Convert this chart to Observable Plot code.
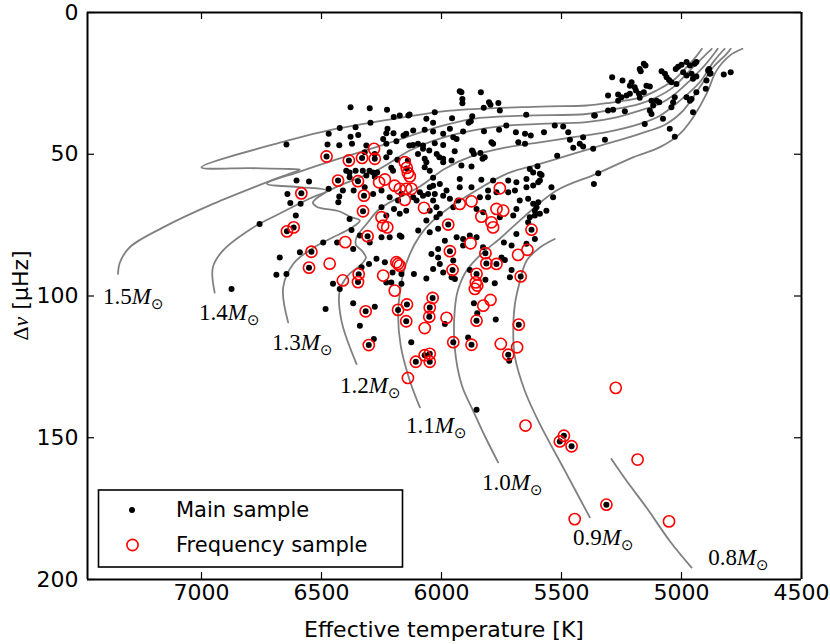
<!DOCTYPE html>
<html><head><meta charset="utf-8">
<script src="https://cdn.jsdelivr.net/npm/d3@7"></script>
<script src="https://cdn.jsdelivr.net/npm/@observablehq/plot@0.6"></script>
<style>body{margin:0;background:#fff}#chart{width:830px;height:644px}</style>
</head><body><div id="chart"></div>
<script>
// Main sample: [Teff (K), Δν (µHz)]
const mainSample = [
[5157,18.1],[5150,18.7],[5174,19.9],[5170,20.7],[5289,22.8],[5246,24.0],[5208,24.6],[5215,25.8],[5195,26.4],[5146,25.8],[5132,26.1],[5083,20.7],[5069,21.6],[5062,22.8],[5052,23.8],[5042,24.6],[5021,25.2],[5024,19.9],[5014,19.1],[5000,18.4],[4979,17.5],[4965,18.7],[4945,18.1],[4938,17.5],[4993,21.1],[4979,22.2],[4958,21.6],[4952,23.4],[4938,22.6],[4889,20.5],[4882,21.6],[4896,24.0],[4899,26.9],[4938,28.1],[4958,30.5],[4824,21.9],[4795,21.1],[4885,19.9],[4879,21.4],
[5264,28.9],[5250,29.9],[5229,29.3],[5215,28.7],[5190,27.5],[5177,28.7],[5157,28.1],[5174,30.1],[5306,29.3],[5264,31.1],[5125,31.1],[5104,31.1],[5093,31.7],[5118,32.8],[5028,29.9],[5035,31.7],[5042,33.4],[4979,29.9],[4965,31.1],[5132,34.6],[5125,35.8],[5077,37.5],[4952,35.2],[5306,34.6],[5285,34.3],[5361,36.3],[5236,34.8],[5153,39.3],[5049,41.0],[5028,43.8],
[5528,39.9],[5493,40.2],[5472,42.2],[5465,44.9],[5410,44.0],[5424,46.3],[5410,47.3],[5451,47.7],[5368,48.1],[5319,44.9],[5364,36.3],[5347,56.7],[5365,60.5],[5518,50.5],
[6379,33.4],[6299,33.8],[6227,34.3],[5924,27.8],[5917,28.1],[5836,28.1],[5913,30.5],[5913,32.0],[5802,31.7],[5796,32.5],[5763,31.9],[5824,33.6],[5757,34.6],
[6174,36.3],[6133,36.0],[6199,36.9],[6138,36.3],[6028,35.2],[5956,37.3],[5872,36.6],[5878,38.4],[6063,37.5],[6035,38.9],[5887,38.9],[5730,39.9],[5647,36.1],
[6296,38.9],[6424,40.7],[6358,40.5],[6347,43.2],[6470,42.8],[6379,43.8],[6225,41.0],[6230,42.6],[6200,42.6],[6147,42.8],[6158,43.4],[6243,44.6],[6118,41.6],[6070,41.4],[6035,42.0],[5993,42.8],[5965,41.0],[5951,44.0],[5910,42.0],[5823,41.9],[5760,41.4],[5690,42.2],[5652,42.8],[5628,43.4],[5573,42.2],
[6646,46.6],[6475,46.6],[6426,46.8],[6373,46.3],[6313,46.9],[6230,46.3],[6188,45.4],[6216,49.3],[6134,46.9],[6320,49.3],[6278,49.9],[6119,46.7],[6098,46.3],[6077,46.9],[6028,46.1],[5993,46.7],[5937,44.6],[5945,48.9],[5873,48.7],[5838,49.6],[5792,45.8],[5785,46.3],[5680,45.8],[5652,46.3],
[6051,48.7],[6020,49.9],[6009,51.1],[5993,51.6],[6077,48.1],[6098,49.9],[6070,51.6],[5870,48.9],[5865,49.9],[5829,51.6],
[6063,52.8],[6070,54.6],[6049,55.8],[5993,52.8],[5958,52.2],[5917,54.0],[5875,54.3],[5820,51.1],[6230,51.1],[6184,51.9],[6140,52.2],
[6397,55.8],[6383,56.4],[6358,55.8],[6328,55.8],[6300,55.8],[6286,56.4],[6268,56.4],[6383,58.1],[6313,57.5],[6278,57.9],[6209,54.8],[6202,55.8],
[6479,50.8],[6386,52.2],[6331,51.3],[6278,51.6],[6431,59.3],[6348,59.5],[6584,63.8],[6323,64.6],[6327,70.1],[6644,77.2],[6616,75.8],[6145,55.0],
[6035,58.3],[5924,58.7],[5834,59.0],[5785,59.3],[5722,59.3],[5688,59.9],[5646,58.7],[5590,59.3],[5542,61.6],
[6049,61.6],[6028,64.0],[6056,64.0],[5924,61.6],[5875,61.6],[5806,62.8],[5771,63.4],[5722,63.4],[5694,62.8],[5646,61.6],[5618,61.0],[5535,65.2],
[5965,65.7],[5951,68.7],[6035,66.3],[6021,68.7],[5840,65.2],[5806,65.2],[5674,66.3],[5639,65.7],[5688,69.3],[5604,68.7],[5590,71.0],[5563,69.9],
[5854,69.3],[5826,70.5],[5757,72.2],[5701,71.6],[5632,72.2],[5611,71.6],[6147,69.9],[6174,71.0],[6063,73.4],[6021,72.2],
[5600,54.2],[5590,56.9],[5632,55.2],[5618,56.4],[5583,57.3],[5597,59.9],[5597,66.9],[5618,67.5],[5611,69.9],[5639,74.0],[5611,79.9],
[6604,59.3],[6552,59.6],[6642,64.0],[6630,67.2],[6587,67.5],[6470,62.2],[6411,62.8],[6426,64.9],[6430,66.9],[6366,62.8],[6320,61.6],[6216,65.2],[6250,62.8],[6198,69.3],[6230,71.6],[6607,71.6],[6758,74.6],[6383,72.8],
[6674,86.4],[6688,92.5],[6646,92.2],[6590,84.6],[6493,81.1],[6435,81.1],[6542,84.4],[6552,90.0],[6308,78.9],
[6375,76.7],[6340,78.7],[6368,83.4],[6333,89.9],[6302,88.7],[6271,86.9],[6236,88.1],[6345,92.3],[6348,95.1],
[6452,95.7],[6424,97.5],[6368,102.6],[6340,110.5],[6483,104.6],[6278,103.8],[6282,115.2],[6316,105.4],[6303,117.3],
[6230,95.2],[6209,95.2],[6167,95.7],[6181,104.9],[6147,108.9],[6144,103.0],[6216,79.3],[6167,79.1],[6875,97.5],
[6250,79.3],[6250,68.7],[6285,64.0],[6118,65.2],[6090,63.4],[6007,71.0],[5931,66.3],[6204,91.7],[6167,92.2],
[6181,66.3],[6167,63.9],[6104,66.3],[6077,64.6],[6049,69.9],[6035,61.1],[6007,60.5],[5993,64.6],[5979,62.8],[6014,76.3],[6097,76.9],[6174,78.7],[6299,81.1],
[6049,77.5],[5986,80.5],[5937,79.3],[5910,79.9],[5882,78.7],[5854,79.3],[5910,82.2],[5827,82.8],[6014,83.4],[6042,85.2],[6014,86.4],[6007,88.7],[5951,87.5],[5965,84.2],[5972,74.8],[5817,84.9],[5813,88.5],[5771,88.7],[5750,86.4],[5736,87.3],[5740,81.1],[5708,82.2],[5688,78.1],[5646,81.6],[5670,93.1],[5708,90.8],[5715,93.4],
[6115,92.2],[6063,93.8],[6035,90.5],[5993,91.7],[5958,93.4],[5944,94.0],[5882,90.8],[5954,90.8],[5854,92.2],[5817,94.3],[5778,95.5],[5865,102.6],[5851,106.1],[5774,108.3],[5854,108.7],
[6037,100.7],[6049,104.1],[6051,107.3],[5986,109.9],[5951,116.3],[5875,117.2],[5889,114.6],[5678,110.1],[5722,120.7],[5718,122.8],[6107,123.2],[6070,120.9],[6049,120.4],[6049,123.2],[6126,116.3],[5625,76.6],
[5854,140.1],[5490,149.3],[5507,151.3],[5458,153.0],[5313,173.6]
];
// Frequency sample: [Teff (K), Δν (µHz)]
const frequencySample = [
[6479,50.8],[6386,52.2],[6331,51.3],[6281,48.1],[6278,51.6],
[6153,52.8],[6145,54.8],[6140,56.6],[6132,57.8],
[6431,59.3],[6348,59.5],[6236,58.9],[6260,59.9],[6195,61.1],[6174,62.2],[6147,62.2],[6125,62.2],[6153,66.1],
[6584,63.8],[6323,64.6],[6327,70.1],[6250,72.2],[6243,75.2],[6226,75.8],[6073,68.9],
[5924,67.5],[5875,66.6],[5757,62.0],[5771,69.3],[5743,69.9],[5834,72.0],[5792,74.0],[5785,75.8],[5972,74.8],[5625,76.6],
[6644,77.2],[6616,75.8],[6542,84.4],[6552,90.0],[6466,88.6],[6401,81.0],[6308,78.9],
[6411,94.5],[6345,92.3],[6348,95.1],[6243,92.8],[6188,88.1],[6181,88.7],[6174,89.3],[6195,98.1],
[6316,105.4],[6303,117.3],[6181,104.9],[6147,108.9],[6144,103.0],[6140,128.9],
[6107,123.2],[6070,120.9],[6049,120.4],[6049,123.2],[6070,111.3],[6037,100.7],[6049,104.1],[6051,107.3],[5979,107.7],
[5951,116.3],[5875,117.2],[5753,116.9],[5685,118.1],[5722,120.7],[5678,110.1],
[5965,84.2],[5879,81.4],[5954,90.8],[5854,92.2],[5817,84.9],[5813,88.5],[5771,88.7],[5681,85.5],[5642,83.7],[5670,93.1],
[5857,95.2],[5851,96.3],[5861,97.5],[5826,103.4],[5796,101.4],[5854,108.7],
[5274,132.4],[5650,145.7],[5490,149.3],[5507,151.3],[5458,153.0],[5183,157.7],[5313,173.6],[5445,178.7],[5052,179.5]
];
// Evolutionary tracks: [Teff (K), Δν (µHz)]
const track15 = [[7348,92.2],[7340,88.2],[7299,82.8],[7160,75.8],[6952,67.5],[6729,59.9],[6618,56.4],[6590,55.4],[6632,55.2],[6799,54.9],[7000,54.6],[6646,45.3],[6437,41.0],[6160,37.0],[5965,34.6],[5590,33.2],[5396,32.8],[5312,32.0],[5170,29.9],[5104,27.5],[5035,24.0],[4979,19.3],[4936,15.2],[4915,12.8]];
const track14 = [[6945,98.8],[6953,90.0],[6911,84.0],[6786,75.9],[6674,70.9],[6549,65.6],[6478,62.8],[6590,61.6],[6728,60.4],[6590,56.1],[6437,51.8],[6229,46.3],[6007,40.2],[5868,37.5],[5660,36.4],[5396,35.8],[5312,34.6],[5174,32.2],[5104,29.9],[5035,26.4],[4952,19.3],[4896,14.6],[4874,12.8]];
const track13 = [[6639,109.3],[6660,97.1],[6618,88.7],[6542,83.4],[6452,79.3],[6382,76.3],[6340,73.4],[6382,72.0],[6424,70.2],[6520,68.5],[6536,67.0],[6478,63.2],[6257,55.1],[6132,48.7],[6007,44.5],[5868,41.6],[5729,39.9],[5590,39.3],[5396,38.7],[5271,37.0],[5174,34.6],[5090,32.2],[5035,29.3],[4965,24.0],[4910,19.3],[4854,13.4],[4849,12.8]];
const track12 = [[6354,124.0],[6417,108.7],[6424,98.1],[6390,92.8],[6340,89.3],[6315,86.5],[6332,84.0],[6357,81.9],[6353,79.1],[6311,74.5],[6257,69.2],[6090,61.4],[5986,55.1],[5868,50.5],[5729,47.6],[5590,45.8],[5452,44.0],[5312,42.2],[5174,39.3],[5090,36.4],[5007,31.1],[4924,24.6],[4868,17.5],[4827,13.4],[4820,12.8]];
const track11 = [[6090,139.3],[6132,129.9],[6170,117.5],[6181,106.3],[6174,99.3],[6160,92.2],[6132,85.2],[6090,78.7],[6040,73.8],[5965,68.7],[5868,63.4],[5729,56.9],[5590,53.4],[5452,49.9],[5312,46.3],[5174,42.8],[5063,39.3],[4993,34.6],[4924,26.4],[4868,19.3],[4812,14.6],[4795,12.8]];
const track10 = [[5764,158.7],[5820,149.3],[5868,140.5],[5915,131.6],[5945,118.1],[5945,105.2],[5932,98.1],[5896,91.1],[5828,84.7],[5757,79.8],[5674,73.4],[5521,62.8],[5354,56.9],[5202,51.1],[5090,47.5],[5007,42.8],[4952,37.0],[4896,28.7],[4854,20.5],[4799,15.2],[4746,12.8]];
const track09 = [[5382,178.1],[5486,161.6],[5590,145.2],[5653,133.4],[5695,121.1],[5701,112.2],[5695,103.4],[5678,96.4],[5645,87.5],[5590,82.9],[5528,79.9]];
const track08 = [[5292,157.5],[5229,165.2],[5146,174.6],[5049,186.4],[4958,195.8]];
const trackMasses = ["1.5","1.4","1.3","1.2","1.1","1.0","0.9","0.8"];
const labelTeff = [7284,6884,6580,6297,6022,5705,5326,4763];
const labelDnu  = [100.2,105.9,116.5,131.6,145.8,165.9,185.3,192.4];
const xTicks = [7000,6500,6000,5500,5000,4500];
const yTicks = [0,50,100,150,200];
const xDomain = [7475,4500];
const yDomain = [0,200];

const trackList = [track15,track14,track13,track12,track11,track10,track09,track08];
const trackRows = trackList.flatMap((pts,i)=>pts.map(([t,d])=>({t,d,m:trackMasses[i]})));
const labels = trackMasses.map((m,i)=>({m, t:labelTeff[i], d:labelDnu[i]}));
const mainRows = mainSample.map(([t,d])=>({t,d}));
const freqRows = frequencySample.map(([t,d])=>({t,d}));

const W=830,H=644,mL=87,mR=29,mT=12,mB=65;
const innerW=W-mL-mR, innerH=H-mT-mB, tl=7;
// tick length in data units (7 px)
const kx = (xDomain[0]-xDomain[1])/innerW*tl, ky = (yDomain[1]-yDomain[0])/innerH*tl;

const svg = Plot.plot({
  width:W, height:H, marginLeft:mL, marginRight:mR, marginTop:mT, marginBottom:mB,
  style:{fontFamily:"DejaVu Sans", fontSize:"22px", background:"#fff", color:"#000"},
  x:{domain:xDomain},
  y:{domain:yDomain, reverse:true},
  marks:[
    Plot.line(trackRows,{x:"t",y:"d",z:"m",stroke:"#808080",strokeWidth:1.8,curve:"catmull-rom"}),
    Plot.dot(mainRows,{x:"t",y:"d",r:3,fill:"black",stroke:null}),
    Plot.dot(freqRows,{x:"t",y:"d",r:5.6,fill:"none",stroke:"#ff0000",strokeWidth:1.6}),
    Plot.text(labels,{x:"t",y:"d",text:d=>d.m+"M⊙",fontFamily:"Liberation Serif",fontSize:23,fill:"black"}),
    Plot.ruleX(xTicks,{x:d=>d,y1:yDomain[1],y2:yDomain[1]-ky,stroke:"#000",strokeWidth:1.2}),
    Plot.ruleX(xTicks,{x:d=>d,y1:yDomain[0],y2:yDomain[0]+ky,stroke:"#000",strokeWidth:1.2}),
    Plot.ruleY(yTicks,{y:d=>d,x1:xDomain[0],x2:xDomain[0]-kx,stroke:"#000",strokeWidth:1.2}),
    Plot.ruleY(yTicks,{y:d=>d,x1:xDomain[1],x2:xDomain[1]+kx,stroke:"#000",strokeWidth:1.2}),
    Plot.ruleX([xDomain[0],xDomain[1]],{y1:yDomain[0],y2:yDomain[1],stroke:"#000",strokeWidth:2}),
    Plot.ruleY([yDomain[0],yDomain[1]],{x1:xDomain[0],x2:xDomain[1],stroke:"#000",strokeWidth:2}),
    Plot.axisX({ticks:xTicks,tickSize:0,tickPadding:5,tickFormat:d=>String(d),label:null,fontSize:22}),
    Plot.axisY({ticks:yTicks,tickSize:0,tickPadding:9,tickFormat:d=>String(d),label:null,fontSize:22})
  ]
});
document.getElementById("chart").appendChild(svg);

const s = d3.select(svg);
// Mass labels with italic M and subscript sun symbol
s.selectAll("text").filter(function(){return this.textContent.endsWith("M⊙") && this.children.length===0;}).each(function(){
  const t = d3.select(this); const num = this.textContent.replace("M⊙","");
  t.text(null);
  t.append("tspan").text(num);
  t.append("tspan").attr("font-style","italic").text("M");
  t.append("tspan").attr("font-family","DejaVu Sans").attr("font-size","15px").attr("dy","5").text("⊙");
});
// Axis titles
s.append("text").attr("x",mL+innerW/2).attr("y",637).attr("text-anchor","middle")
  .attr("font-family","DejaVu Sans").attr("font-size","22px").text("Effective temperature [K]");
const yl = s.append("text").attr("transform",`translate(28,${mT+innerH/2}) rotate(-90)`).attr("text-anchor","middle")
  .attr("font-family","DejaVu Sans").attr("font-size","22px");
yl.append("tspan").attr("font-family","Liberation Serif").text("Δ");
yl.append("tspan").attr("font-family","Liberation Serif").attr("font-style","italic").text("ν");
yl.append("tspan").text(" [µHz]");
// Legend
const lg = s.append("g");
lg.append("rect").attr("x",98.5).attr("y",490).attr("width",304).attr("height",77)
  .attr("fill","white").attr("stroke","black").attr("stroke-width",1.6);
lg.append("circle").attr("cx",132).attr("cy",510).attr("r",3).attr("fill","black");
lg.append("circle").attr("cx",132.5).attr("cy",545).attr("r",5.6).attr("fill","none").attr("stroke","#ff0000").attr("stroke-width",1.6);
lg.append("text").attr("x",176).attr("y",517).attr("text-anchor","start").attr("font-family","DejaVu Sans").attr("font-size","21px").text("Main sample");
lg.append("text").attr("x",176).attr("y",552).attr("text-anchor","start").attr("font-family","DejaVu Sans").attr("font-size","21px").text("Frequency sample");
</script></body></html>
